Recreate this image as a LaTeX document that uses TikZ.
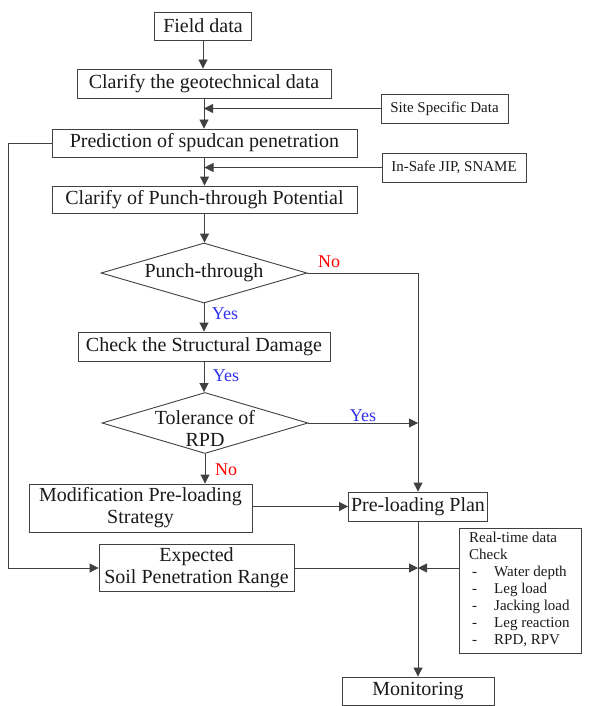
\documentclass[tikz,border=0pt]{standalone}
\usepackage{fontspec}
\setmainfont{Liberation Serif}
\usetikzlibrary{arrows.meta,shapes.geometric}
\definecolor{lncol}{HTML}{404040}
\definecolor{txcol}{HTML}{1A1A1A}
\definecolor{nored}{HTML}{FF0000}
\definecolor{yesblue}{HTML}{3030F0}
\begin{document}
\begin{tikzpicture}[x=1pt,y=-1pt,
 box/.style={draw=lncol,line width=0.9pt,inner sep=0pt,font=\fontsize{20}{22}\selectfont,text=txcol,align=center},
 sbox/.style={draw=lncol,line width=0.9pt,inner sep=0pt,font=\fontsize{15}{17}\selectfont,text=txcol},
 diam/.style={draw=lncol,line width=0.9pt,diamond,inner sep=0pt},
 dtext/.style={font=\fontsize{20}{22}\selectfont,text=txcol,align=center,inner sep=0pt},
 conn/.style={draw=lncol,line width=0.9pt},
 arr/.style={draw=lncol,line width=0.9pt,-{Triangle[length=9pt,width=9pt]}},
 nolbl/.style={font=\fontsize{18}{20}\selectfont,text=nored,inner sep=0pt},
 yeslbl/.style={font=\fontsize{18}{20}\selectfont,text=yesblue,inner sep=0pt}
]
\useasboundingbox (0,0) rectangle (592,706);
\fill[white] (0,0) rectangle (592,706);

\node[box,minimum width=97pt,minimum height=28pt] (fd) at (203,26) {Field data};
\node[box,minimum width=254pt,minimum height=29pt] (cg) at (204,83.5) {Clarify the geotechnical data};
\node[sbox,minimum width=127pt,minimum height=29pt] (site) at (444.5,108.5) {Site Specific Data};
\node[box,minimum width=305pt,minimum height=28pt] (pred) at (204.5,143) {Prediction of spudcan penetration};
\node[sbox,minimum width=144pt,minimum height=29pt] (insafe) at (454,167.5) {In-Safe JIP, SNAME};
\node[box,minimum width=305pt,minimum height=27pt] (cp) at (204.5,199.5) {Clarify of Punch-through Potential};
\node[diam,minimum width=206pt,minimum height=60pt] (pt) at (204,273) {};
\node[dtext] (ptt) at (204,273) {Punch-through};
\node[box,minimum width=252pt,minimum height=29pt] (chk) at (204,346.5) {Check the Structural Damage};
\node[diam,minimum width=206pt,minimum height=61pt] (tol) at (205,423) {};
\node[dtext] (tolt) at (205,428) {Tolerance of\\RPD};
\node[box,minimum width=223pt,minimum height=48pt] (mod) at (140.5,508) {Modification Pre-loading\\Strategy};
\node[box,minimum width=139pt,minimum height=29pt] (pl) at (418,506.5) {Pre-loading Plan};
\node[sbox,minimum width=122pt,minimum height=125pt] (rt) at (520,590.5) {};
\node[anchor=north west,inner sep=0pt,align=left,font=\fontsize{15}{17}\selectfont,text=txcol] (rtt) at (469,532) {Real-time data\\Check\\\makebox[25pt][l]{\hspace{3pt}-}Water depth\\\makebox[25pt][l]{\hspace{3pt}-}Leg load\\\makebox[25pt][l]{\hspace{3pt}-}Jacking load\\\makebox[25pt][l]{\hspace{3pt}-}Leg reaction\\\makebox[25pt][l]{\hspace{3pt}-}RPD, RPV};
\node[box,minimum width=195pt,minimum height=47pt] (exp) at (196.5,568) {Expected\\Soil Penetration Range};
\node[box,minimum width=152pt,minimum height=28pt] (mon) at (418,691) {Monitoring};

\coordinate (rj) at (418,273);
\coordinate (lc) at (8,143);
\coordinate (j) at (pl.south |- exp.east);

\draw[arr] (fd.south) -- (fd.south |- cg.north);
\draw[arr] (cg.south) -- (cg.south |- pred.north);
\draw[arr] (site.west) -- (site.west -| cg.south);
\draw[arr] (pred.south) -- (pred.south |- cp.north);
\draw[arr] (insafe.west) -- (insafe.west -| pred.south);
\draw[arr] (cp.south) -- (cp.south |- pt.north);
\draw[arr] (pt.east) -- (rj) -- (pl.north);
\draw[arr] (pt.south) -- (pt.south |- chk.north);
\draw[arr] (chk.south) -- (chk.south |- tol.north);
\draw[arr] (tol.east) -- (tol.east -| pl.north);
\draw[arr] (tol.south) -- (tol.south |- mod.north);
\draw[arr] (pl.west -| mod.east) -- (pl.west);
\draw[arr] (pred.west) -- (lc) -- (lc |- exp.west) -- (exp.west);
\draw[arr] (exp.east) -- (j);
\draw[arr] (rt.west |- j) -- (j);
\draw[arr] (pl.south) -- (mon.north);

\node[nolbl] (no1) at (329,262) {No};
\node[yeslbl] (y1) at (225,314) {Yes};
\node[yeslbl] (y2) at (226,376) {Yes};
\node[yeslbl] (y3) at (363,416) {Yes};
\node[nolbl] (no2) at (226,470) {No};
\end{tikzpicture}
\end{document}
